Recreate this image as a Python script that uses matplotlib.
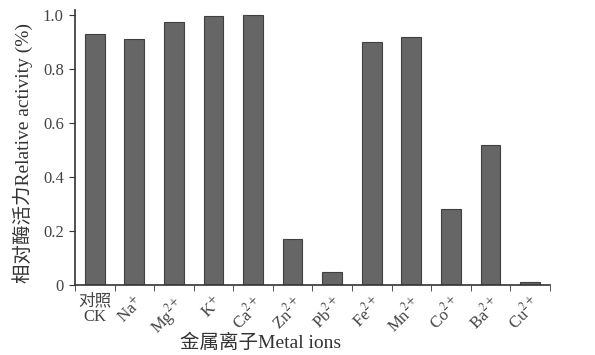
import matplotlib
matplotlib.use('Agg')
import matplotlib.pyplot as plt
import numpy as np

plt.rcParams['font.family'] = ['Liberation Serif', 'Noto Sans CJK SC']
plt.rcParams['mathtext.fontset'] = 'stix'

labels = ['对照\nCK', 'Na$^{+}$', 'Mg$^{2+}$', 'K$^{+}$', 'Ca$^{2+}$', 'Zn$^{2+}$',
          'Pb$^{2+}$', 'Fe$^{2+}$', 'Mn$^{2+}$', 'Co$^{2+}$', 'Ba$^{2+}$', 'Cu$^{2+}$']
activity = [0.93, 0.91, 0.975, 0.995, 1.0, 0.17, 0.05, 0.90, 0.92, 0.28, 0.52, 0.01]
yticks = [0, 0.2, 0.4, 0.6, 0.8, 1.0]
ytick_labels = ['0', '0.2', '0.4', '0.6', '0.8', '1.0']

fig = plt.figure(figsize=(5.95, 3.55), dpi=100)
ax = fig.add_axes([0.126, 0.197, 0.798, 0.775])

x = np.arange(len(labels))
ax.bar(x, activity, width=0.5, color='#666666', edgecolor='#404040', linewidth=0.8)

ax.set_xlim(-0.5, len(labels) - 0.5)
ax.set_ylim(0, 1.0185)
ax.set_yticks(yticks)
ax.set_yticklabels(ytick_labels, fontsize=12, color='#444444')

ax.set_xticks(x)
ax.set_xticklabels(labels, fontsize=12, color='#444444', linespacing=1.0)
for i, t in enumerate(ax.get_xticklabels()):
    if i > 0:
        t.set_rotation(45)
        t.set_ha('right')
        t.set_va('top')
        t.set_rotation_mode('anchor')
ax.set_xticks(np.arange(-0.5, len(labels)), minor=True)
ax.tick_params(axis='x', which='major', length=0, pad=6)
ax.tick_params(axis='x', which='minor', length=4, direction='out', color='#333333')
ax.tick_params(axis='y', length=4, direction='out', color='#333333', pad=4)

for s in ['top', 'right']:
    ax.spines[s].set_visible(False)
for s in ['left', 'bottom']:
    ax.spines[s].set_color('#333333')
    ax.spines[s].set_linewidth(1.2)

ax.set_ylabel('相对酶活力Relative activity (%)', fontsize=14, color='#333333')
ax.yaxis.set_label_coords(-0.088, 0.48)
ax.set_xlabel('金属离子Metal ions', fontsize=14, color='#333333')
ax.xaxis.set_label_coords(0.39, -0.175)

fig.savefig('out.png', dpi=100)
